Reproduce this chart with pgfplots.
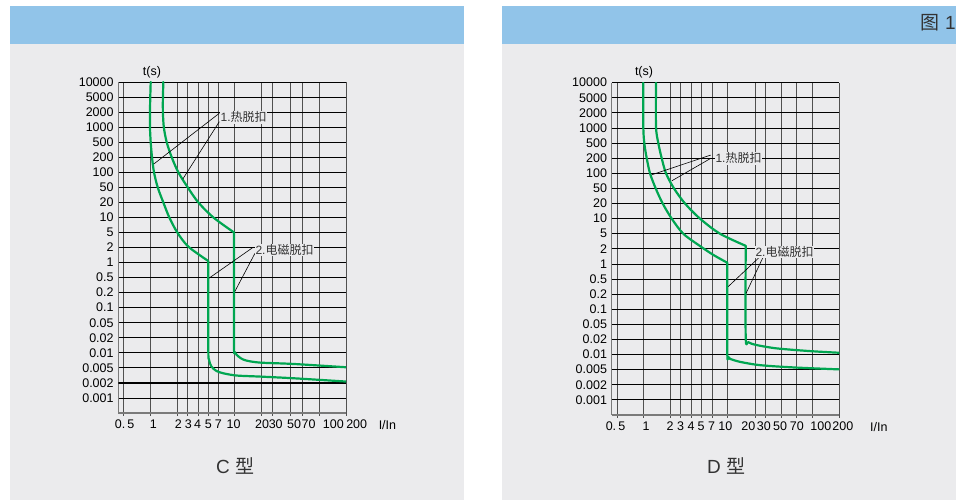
\documentclass[border=0pt]{standalone}
\usepackage{pgfplots}
\pgfplotsset{compat=1.18}
\usepackage{fontspec}
\setmainfont{Liberation Sans}
\newfontfamily\cjk{Noto Sans CJK SC}
\definecolor{panelgray}{HTML}{EBEBED}
\definecolor{panelblue}{HTML}{91C4E9}
\definecolor{vgray}{HTML}{505050}
\definecolor{axgray}{HTML}{7A7A7A}
\definecolor{curve}{HTML}{00A651}
\definecolor{txt}{HTML}{333333}
\tikzset{ann/.style={fill=panelgray, inner sep=0.8pt, anchor=west, text=txt, font=\fontsize{12}{14}\selectfont}}
\pgfplotsset{
  tcc/.style={
    scale only axis,
    ymin=-1, ymax=21,
    axis lines=left,
    axis line style={-, draw=axgray, line width=1.4pt},
    grid=major,
    major x grid style={draw=vgray, line width=0.9pt},
    major y grid style={draw=black, line width=0.9pt},
    ytick={0,...,21},
    yticklabels={0.001,0.002,0.005,0.01,0.02,0.05,0.1,0.2,0.5,1,2,5,10,20,50,100,200,500,1000,2000,5000,10000},
    ytick style={draw=none},
    xtick style={draw=vgray, line width=0.9pt},
    tick align=outside,
    major tick length=3pt,
    xticklabels={},
    extra x tick style={grid=none, major tick length=0pt, xticklabel style={anchor=north, inner sep=0pt, yshift=-7pt}},
    yticklabel style={anchor=east, inner sep=0pt, xshift=-1.5pt},
    tick label style={font=\fontsize{12.5}{14}\selectfont, text=black},
    ylabel={t(s)}, xlabel={I/In},
  },
  curv/.style={draw=curve, line width=2.2pt, smooth, tension=0.5, line join=round, line cap=round, no marks},
  lead/.style={draw=black, line width=0.6pt, no marks},
}
\begin{document}
\begin{tikzpicture}[x=1pt,y=1pt]
\path[use as bounding box] (0,0) rectangle (968,500);
\fill[white] (0,0) rectangle (968,500);
\fill[panelgray] (10,0) rectangle (464,456);
\fill[panelblue] (10,456) rectangle (464,494);
\fill[panelgray] (502,0) rectangle (956,456);
\fill[panelblue] (502,456) rectangle (956,494);
\node[anchor=base east, inner sep=0pt, font=\fontsize{19}{22}\selectfont, text=txt] at (956,470) {{\cjk 图} 1};
\node[anchor=base west, inner sep=0pt, font=\fontsize{19}{22}\selectfont, text=txt] at (216,26) {C {\cjk 型}};
\node[anchor=base west, inner sep=0pt, font=\fontsize{19}{22}\selectfont, text=txt] at (707,26) {D {\cjk 型}};

% ---------------- C type ----------------
\begin{axis}[tcc,
  at={(118.3pt,87pt)}, anchor=south west,
  width=227.7pt, height=331pt,
  xmin=0, xmax=227.7,
  xtick={5,32.4,59,69.4,79.7,90,100,115.7,143,153.7,171.7,184.4,201,227.7},
  extra x ticks={6.4,35,60,70,79.4,90,100,115.2,143.7,157.4,175.7,190.2,215,227.7},
  extra x tick labels={0.\,5,1,2,3,4,5,7,10,20,30,50,70,100,\hspace*{21.4pt}200},
  every axis y label/.style={at={(axis description cs:0.148,1)}, anchor=south, inner sep=0pt, yshift=4pt, font=\fontsize{12.5}{14}\selectfont},
  every axis x label/.style={at={(axis description cs:1.182,0)}, anchor=north, inner sep=0pt, yshift=-7pt, font=\fontsize{12.5}{14}\selectfont},
]
\addplot[draw=black, line width=1.6pt, no marks] coordinates {(0,1) (227.7,1)};
% thermal release, lower curve
\addplot[curv] coordinates {(32.4,21) (31.8,19.5) (31.7,18) (32.4,17) (33.7,16) (35.7,15) (39.4,14) (45,13) (51,12) (59,11) (70,10.06) (90,9.1)};
\addplot[curv] coordinates {(90,9.1) (90,3.3) (90.7,2.55) (93,2.1) (98,1.8) (105,1.64) (118.4,1.49) (141.7,1.42) (175,1.31) (227.7,1.09)};
% upper curve
\addplot[curv] coordinates {(45,21) (44.5,19.5) (44.6,19) (45.5,18) (48.4,17) (53.4,16) (60,15) (69.4,14) (80,13) (95,12) (115.7,11)};
\addplot[curv] coordinates {(115.7,11) (115.7,3.6) (116.5,3.05) (118.4,2.86) (123,2.62) (128.4,2.48) (141.7,2.35) (175,2.26) (227.7,2.04)};
% leaders
\addplot[lead] coordinates {(101,18.92) (35.5,15.55)};
\addplot[lead] coordinates {(101,18.36) (64.5,14.55)};
\addplot[lead] coordinates {(135,10.02) (90.7,7.96)};
\addplot[lead] coordinates {(136.7,9.62) (116.5,7.07)};
\node[ann] at (axis cs:101.3,18.65) {1.{\cjk 热脱扣}};
\node[ann] at (axis cs:136.2,9.84) {2.{\cjk 电磁脱扣}};
\end{axis}

% ---------------- D type ----------------
\begin{axis}[tcc,
  at={(611.7pt,85pt)}, anchor=south west,
  width=227.6pt, height=332.3pt,
  xmin=0, xmax=227.6,
  xtick={5.6,31.6,59,69,79.6,90,100.3,115.6,143.3,153.6,169.3,185,200.6,227.6},
  extra x ticks={3.8,34.3,58.3,69,79.3,89.3,100,113.6,136.6,152.2,168.3,185.2,209.2,227.6},
  extra x tick labels={0.\,5,1,2,3,4,5,7,10,20,30,50,70,100,\hspace*{7pt}200},
  every axis y label/.style={at={(axis description cs:0.142,1)}, anchor=south, inner sep=0pt, yshift=4pt, font=\fontsize{12.5}{14}\selectfont},
  every axis x label/.style={at={(axis description cs:1.174,0)}, anchor=north, inner sep=0pt, yshift=-7pt, font=\fontsize{12.5}{14}\selectfont},
]
\addplot[curv] coordinates {(31.6,21) (31.6,18.1) (32.6,17) (35,16) (38.3,15) (44,14) (51,13) (60,12) (71.6,11) (88,10.2) (101.6,9.6) (115.6,9.08)};
\addplot[curv] coordinates {(115.6,9.08) (115.6,3.1) (116.5,2.85) (118.3,2.72) (128.3,2.52) (148.3,2.3) (181.6,2.15) (227.6,2.02)};
\addplot[curv] coordinates {(44.3,21) (44.3,18.1) (46.6,17) (50,16) (54.3,15) (62.3,14) (73.3,13) (88.3,12) (108.3,11) (134,10.2)};
\addplot[curv] coordinates {(134,10.2) (134,4.15) (136.6,3.82) (145,3.63) (165,3.41) (198.3,3.23) (227.6,3.12)};
\addplot[lead] coordinates {(99,16.21) (40,14.9)};
\addplot[lead] coordinates {(99,15.99) (60,14.5)};
\addplot[lead] coordinates {(150,9.59) (116.3,7.49)};
\addplot[lead] coordinates {(151.6,9.48) (134.3,7.05)};
\node[ann] at (axis cs:102.8,16) {1.{\cjk 热脱扣}};
\node[ann] at (axis cs:142.8,9.8) {2.{\cjk 电磁脱扣}};
\end{axis}
\end{tikzpicture}
\end{document}
